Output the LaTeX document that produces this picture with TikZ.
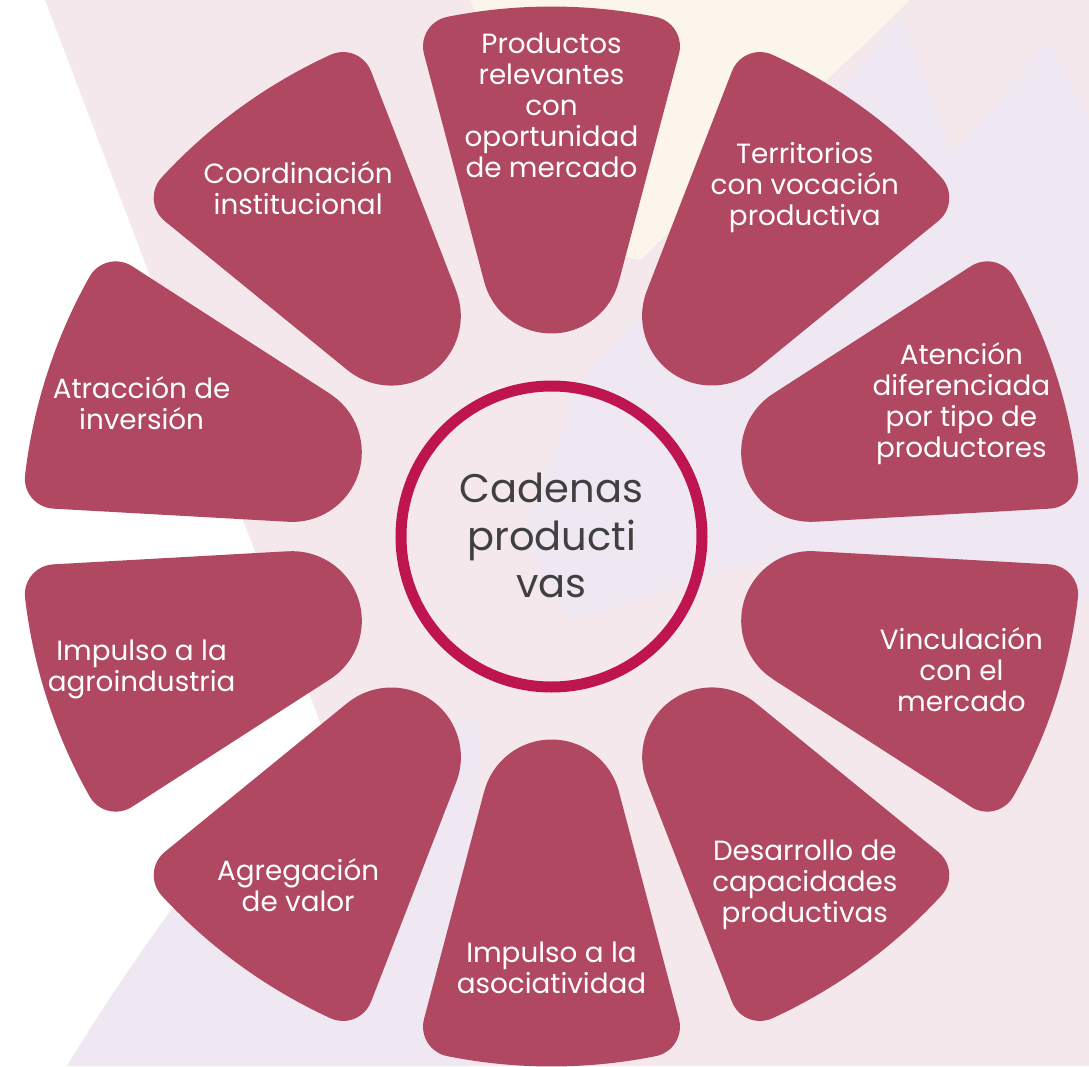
\documentclass[tikz,border=0pt]{standalone}
\usepackage{fontspec}
\setmainfont{Poppins}
\usetikzlibrary{calc}

\definecolor{vino}{HTML}{B04862}
\definecolor{aro}{HTML}{BE1550}
\definecolor{gris}{HTML}{404040}
\definecolor{rosa}{HTML}{F5E8EC}
\definecolor{crema}{HTML}{FBF5EC}
\definecolor{lila}{HTML}{EFE8F2}

\tikzset{
  petalo/.pic={
    \fill[vino] (-14.8:263.6) -- (-14.8:499.1)
      arc[start angle=-104.8, end angle=-11.36, radius=30]
      arc[start angle=-11.36, end angle=11.36, radius=530]
      arc[start angle=11.36, end angle=104.8, radius=30]
      -- (14.8:263.6)
      arc[start angle=104.8, end angle=255.2, radius=69.6]
      -- cycle;
  },
  etiqueta/.style={text=white, align=center, inner sep=0pt, font=\fontsize{27.8}{31}\selectfont},
  central/.style={text=gris, align=center, inner sep=0pt, font=\fontsize{40}{47.5}\selectfont}
}

\begin{document}
\begin{tikzpicture}[x=1pt, y=1pt]
\useasboundingbox (-551.5,-529.5) rectangle (537.5,536.5);

% Fondo
\fill[white] (-551.5,-529.5) rectangle (537.5,536.5);
\fill[rosa] (-506.5,536.5) -- (537.5,536.5) -- (537.5,-529.5) -- (-484.5,-529.5)
  .. controls (-401.5,-393.5) and (-301.5,-263.5) .. (-228.5,-193.5) -- cycle;
\fill[crema] (-81.5,536.5) -- (358.5,536.5) -- (88.5,276.5) -- (28.5,286.5) -- cycle;
\fill[lila] (288.5,446.5) -- (348.5,519.5) -- (401.5,383.5) -- (498.5,496.5) -- (537.5,416.5)
  -- (537.5,-63.5) -- (208.5,-23.5) -- (18.5,-83.5) -- (-28.5,0.5) -- (28.5,156.5) -- cycle;
\fill[lila] (-484.5,-529.5) .. controls (-401.5,-393.5) and (-301.5,-263.5) .. (-228.5,-193.5)
  -- (-71.5,-183.5) -- (-81.5,-529.5) -- cycle;

% Centro
\coordinate (O) at (0,0);

% Petalos
\pic[rotate=90] at (O) {petalo};
\pic[rotate=54] at (O) {petalo};
\pic[rotate=18] at (O) {petalo};
\pic[rotate=-18] at (O) {petalo};
\pic[rotate=-54] at (O) {petalo};
\pic[rotate=-90] at (O) {petalo};
\pic[rotate=-126] at (O) {petalo};
\pic[rotate=-162] at (O) {petalo};
\pic[rotate=162] at (O) {petalo};
\pic[rotate=126] at (O) {petalo};

% Circulo central
\draw[aro, line width=11pt] (O) circle (150.5);
\node[central] (cad) at (0,1) {Cadenas\\producti\\vas};

% Textos de los petalos
\node[etiqueta] (prod) at ($(O)+(90:431)$) {Productos\\relevantes\\con\\oportunidad\\de mercado};
\node[etiqueta] (terr) at ($(O)+(54:431)$) {Territorios\\con vocación\\productiva};
\node[etiqueta] (aten) at ($(O)+(18:431)$) {Atención\\diferenciada\\por tipo de\\productores};
\node[etiqueta] (vinc) at ($(O)+(-18:431)$) {Vinculación\\con el\\mercado};
\node[etiqueta] (desa) at ($(O)+(-54:431)$) {Desarrollo de\\capacidades\\productivas};
\node[etiqueta] (asoc) at ($(O)+(-90:431)$) {Impulso a la\\asociatividad};
\node[etiqueta] (agre) at ($(O)+(-126:431)$) {Agregación\\de valor};
\node[etiqueta] (agro) at ($(O)+(-162:431)$) {Impulso a la\\agroindustria};
\node[etiqueta] (atra) at ($(O)+(162:431)$) {Atracción de\\inversión};
\node[etiqueta] (coor) at ($(O)+(126:431)$) {Coordinación\\institucional};

\end{tikzpicture}
\end{document}
